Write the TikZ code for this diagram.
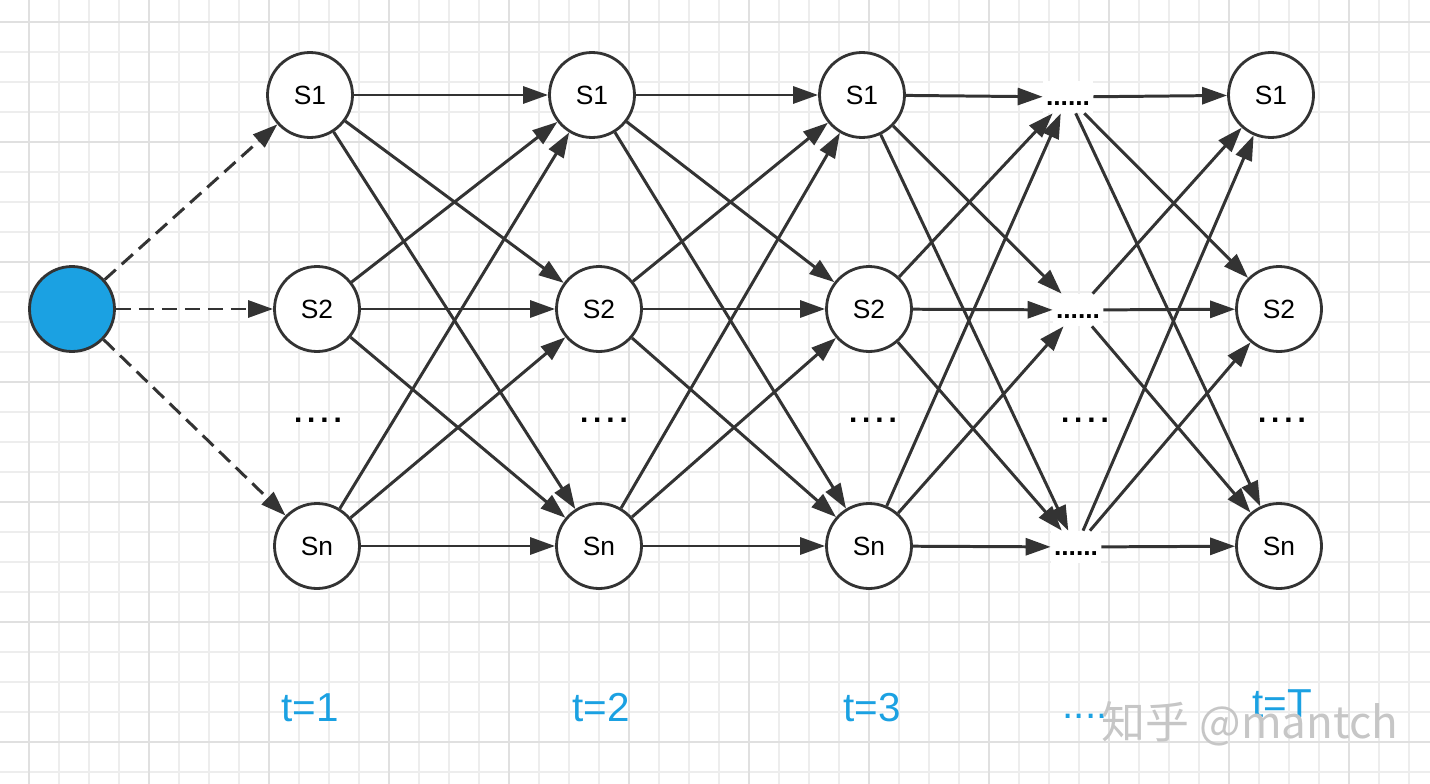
\documentclass[tikz,border=0pt]{standalone}
\usepackage{fontspec}
\setmainfont{Liberation Sans}
\newfontfamily\cjkfont{Noto Sans CJK SC}
\usetikzlibrary{arrows.meta}
\definecolor{hmmblue}{HTML}{1BA1E2}
\definecolor{linegray}{HTML}{333333}
\definecolor{gridminor}{HTML}{EDEDED}
\definecolor{gridmajor}{HTML}{E0E0E0}
\newcommand{\fourdots}{.\kern2.8pt.\kern2.8pt.\kern2.8pt.}

\begin{document}
\begin{tikzpicture}[
  x=0.02cm, y=-0.02cm,
  state/.style={draw=linegray, circle, line width=1.6pt, fill=white,
                minimum size=1.7cm, inner sep=0pt,
                font=\fontsize{15}{17}\selectfont},
  start/.style={state, fill=hmmblue},
  gap/.style={fill=white, minimum width=1cm, minimum height=0.64cm,
              inner sep=0pt, text height=0.35cm, text depth=0pt,
              font=\bfseries\fontsize{15}{17}\selectfont},
  vdots/.style={font=\bfseries\fontsize{17}{19}\selectfont},
  tlab/.style={text=hmmblue, font=\fontsize{23}{26}\selectfont},
  wmark/.style={text=gray!45, font=\cjkfont\fontsize{25}{28}\selectfont},
  arr/.style={-{Triangle[length=0.5cm, width=0.34cm]}, line width=1.7pt,
              draw=linegray},
  darr/.style={arr, dash pattern=on 0.3cm off 0.16cm},
]
\useasboundingbox (0,0) rectangle (1430,784);
\fill[white] (0,0) rectangle (1430,784);

% ---- background grid -------------------------------------------------------
\foreach \gx in {29,59,...,1409}
  \draw[gridminor, line width=0.6pt] (\gx,0) -- (\gx,784);
\foreach \gy in {22,52,...,772}
  \draw[gridminor, line width=0.6pt] (0,\gy) -- (1430,\gy);
\foreach \gx in {29,149,...,1349}
  \draw[gridmajor, line width=0.9pt] (\gx,0) -- (\gx,784);
\foreach \gy in {22,142,...,742}
  \draw[gridmajor, line width=0.9pt] (0,\gy) -- (1430,\gy);

% ---- initial state ---------------------------------------------------------
\node[start] (init) at (72,309) {};

% ---- t=1 -------------------------------------------------------------------
\node[state] (c1s1) at (310,95) {S1};
\node[state] (c1s2) at (317,309) {S2};
\node[state] (c1sn) at (317,546) {Sn};
\node[vdots] (c1d) at (318,420) {\fourdots};
\node[tlab] (t1) at (310,708) {t=1};

% ---- t=2 -------------------------------------------------------------------
\node[state] (c2s1) at (592,95) {S1};
\node[state] (c2s2) at (599,309) {S2};
\node[state] (c2sn) at (599,546) {Sn};
\node[vdots] (c2d) at (604,420) {\fourdots};
\node[tlab] (t2) at (601,708) {t=2};

% ---- t=3 -------------------------------------------------------------------
\node[state] (c3s1) at (862,95) {S1};
\node[state] (c3s2) at (869,309) {S2};
\node[state] (c3sn) at (869,546) {Sn};
\node[vdots] (c3d) at (873,420) {\fourdots};
\node[tlab] (t3) at (872,708) {t=3};

% ---- intermediate steps ----------------------------------------------------
\node[gap] (c4s1) at (1068,97) {......};
\node[gap] (c4s2) at (1078,310) {......};
\node[gap] (c4sn) at (1076,547) {......};
\node[vdots] (c4d) at (1085,420) {\fourdots};
\node[tlab] (t4) at (1085,716) {....};

% ---- t=T -------------------------------------------------------------------
\node[state] (c5s1) at (1271,95) {S1};
\node[state] (c5s2) at (1279,309) {S2};
\node[state] (c5sn) at (1279,546) {Sn};
\node[vdots] (c5d) at (1282,420) {\fourdots};
\node[tlab] (t5) at (1282,704) {t=T};

% ---- transitions -----------------------------------------------------------
\foreach \dst in {c1s1,c1s2,c1sn}
  \draw[darr] (init) -- (\dst);
\foreach \src/\dst in {c1/c2,c2/c3,c3/c4,c4/c5}
  \foreach \i in {s1,s2,sn}
    \foreach \j in {s1,s2,sn}
      \draw[arr] (\src\i) -- (\dst\j);

% ---- watermark -------------------------------------------------------------
\node[wmark] (mark) at (1250,724) {知乎 @mantch};

\end{tikzpicture}
\end{document}
